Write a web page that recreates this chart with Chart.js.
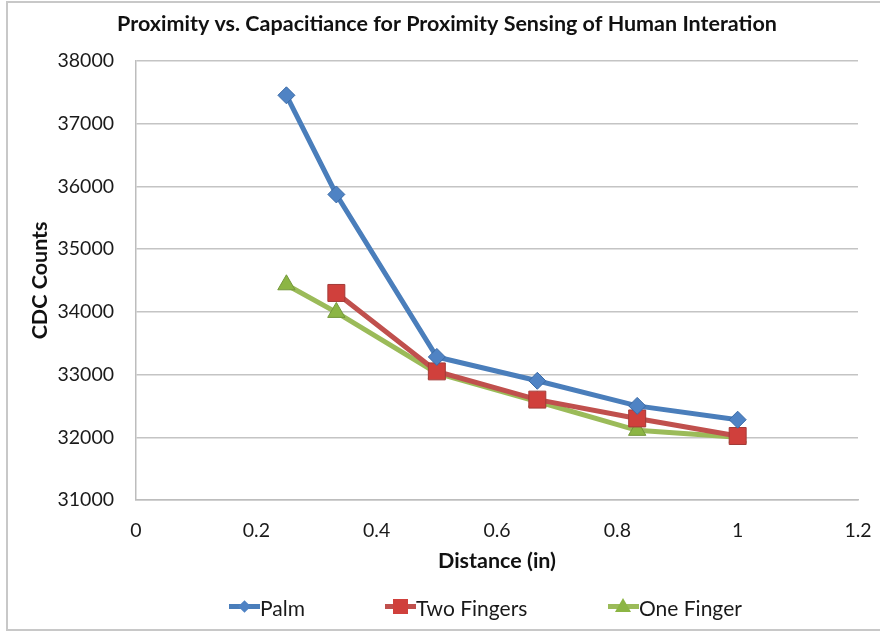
<!doctype html>
<html lang="en">
  <head>
    <meta charset="utf-8">
    <title>Proximity vs. Capacitiance</title>
    <style>
      * {
        margin: 0;
        padding: 0;
      }
      body {
        background: #fff;
        font-family: Lato, sans-serif;
      }
      .chartBox {
        position: relative;
        width: 880px;
        height: 633px;
        overflow: hidden;
      }
      .frame {
        position: absolute;
        left: 6px;
        top: 1px;
        width: 900px;
        height: 630px;
        border: 2px solid #c8c8c8;
        box-sizing: border-box;
      }
      #myChart {
        position: absolute;
        left: 0;
        top: 0;
      }
      .legend {
        position: absolute;
        top: 594px;
        left: 0;
        width: 880px;
        height: 26px;
        font-size: 21px;
        color: #1a1a1a;
      }
      .legend .item {
        position: absolute;
        top: 0;
        display: flex;
        align-items: center;
        height: 26px;
      }
      .legend .icon {
        position: relative;
        width: 31px;
        height: 26px;
      }
      .legend .icon .line {
        position: absolute;
        left: 0;
        top: 10px;
        width: 31px;
        height: 5px;
      }
      .legend .icon .mark {
        position: absolute;
      }
    </style>
  </head>
  <body>
    <div class="chartBox">
      <div class="frame"></div>
      <canvas id="myChart" width="880" height="633"></canvas>
      <div class="legend" id="legend"></div>
    </div>
    <script src="https://cdn.jsdelivr.net/npm/chart.js/dist/chart.umd.min.js"></script>
    <script>
// distances in inches
const distance = [0.25, 0.333, 0.5, 0.667, 0.833, 1];

// CDC counts per hand shape
const palm = [37450, 35870, 33280, 32900, 32500, 32280];
const twoFingers = [null, 34300, 33050, 32600, 32300, 32020];
const oneFinger = [34430, 33990, 33020, 32570, 32110, 32000];

const xTicks = [0, 0.2, 0.4, 0.6, 0.8, 1, 1.2];
const yTicks = [31000, 32000, 33000, 34000, 35000, 36000, 37000, 38000];

const blue = '#4a7ebb';
const red = '#c0504d';
const green = '#9bbb59';

function toPoints(values) {
  const pts = [];
  values.forEach((v, i) => {
    if (v !== null) pts.push({x: distance[i], y: v});
  });
  return pts;
}

const data = {
  datasets: [{
    label: 'Palm',
    data: toPoints(palm),
    borderColor: blue,
    backgroundColor: '#4f83c4',
    pointBorderColor: '#3a6aa6',
    pointStyle: 'rectRot',
    pointRadius: 8.5,
    pointBorderWidth: 1
  }, {
    label: 'Two Fingers',
    data: toPoints(twoFingers),
    borderColor: red,
    backgroundColor: '#d0403c',
    pointBorderColor: '#a33b38',
    pointStyle: 'rect',
    pointRadius: 12,
    pointBorderWidth: 1
  }, {
    label: 'One Finger',
    data: toPoints(oneFinger),
    borderColor: green,
    backgroundColor: '#8cb544',
    pointBorderColor: '#74983b',
    pointStyle: 'triangle',
    pointRadius: 10,
    pointBorderWidth: 1
  }]
};

const tickFont = {family: 'Lato', size: 19.5};
const titleFont = {family: 'Lato', size: 21.5, weight: 'bold'};

const config = {
  type: 'scatter',
  data,
  options: {
    responsive: false,
    animation: false,
    showLine: true,
    borderWidth: 5,
    layout: {
      padding: {left: 36, right: 22, top: 0, bottom: 58}
    },
    plugins: {
      legend: {display: false},
      tooltip: {enabled: false},
      title: {
        display: true,
        text: 'Proximity vs. Capacitiance for Proximity Sensing of Human Interation',
        color: '#111',
        font: {family: 'Lato', size: 21.5, weight: 'bold'},
        padding: {top: 11, bottom: 24}
      }
    },
    scales: {
      x: {
        type: 'linear',
        min: 0,
        max: 1.2,
        afterBuildTicks: axis => {
          axis.ticks = xTicks.map(v => ({value: v}));
        },
        afterFit: axis => {
          axis.height = 75;
        },
        // invisible tick marks push the labels down without widening the side padding
        grid: {
          drawOnChartArea: false,
          drawTicks: true,
          tickLength: 17,
          tickColor: 'rgba(0,0,0,0)'
        },
        border: {color: '#bdbdbd', width: 1.5},
        ticks: {
          font: tickFont,
          color: '#1a1a1a',
          padding: 2,
          maxRotation: 0,
          callback: v => String(Math.round(v * 10) / 10)
        },
        title: {
          display: true,
          text: 'Distance (in)',
          color: '#111',
          font: titleFont,
          padding: {top: 0, bottom: 1}
        }
      },
      y: {
        type: 'linear',
        min: 31000,
        max: 38000,
        afterBuildTicks: axis => {
          axis.ticks = yTicks.map(v => ({value: v}));
        },
        afterFit: axis => {
          axis.width = 100;
        },
        grid: {
          color: '#c4c4c4',
          lineWidth: 1.5,
          drawTicks: false
        },
        border: {color: '#bdbdbd', width: 1.5},
        ticks: {
          font: tickFont,
          color: '#1a1a1a',
          padding: 22,
          callback: v => String(v)
        },
        title: {
          display: true,
          text: 'CDC Counts',
          color: '#111',
          font: titleFont,
          padding: {top: -9, bottom: 0}
        }
      }
    }
  }
};

const myChart = new Chart(document.getElementById('myChart'), config);

// legend built from the datasets: line with marker, then label
const legendLefts = [229, 385, 608];
const legend = document.getElementById('legend');
myChart.data.datasets.forEach((ds, i) => {
  const item = document.createElement('div');
  item.className = 'item';
  item.style.left = legendLefts[i] + 'px';
  const icon = document.createElement('div');
  icon.className = 'icon';
  const line = document.createElement('div');
  line.className = 'line';
  line.style.background = ds.borderColor;
  icon.appendChild(line);
  const mark = document.createElement('div');
  mark.className = 'mark';
  if (ds.pointStyle === 'rectRot') {
    Object.assign(mark.style, {left: '11px', top: '8px', width: '9px', height: '9px',
      background: ds.backgroundColor, transform: 'rotate(45deg)'});
  } else if (ds.pointStyle === 'rect') {
    Object.assign(mark.style, {left: '8px', top: '5px', width: '15px', height: '15px',
      background: ds.backgroundColor});
  } else {
    Object.assign(mark.style, {left: '7px', top: '4px', width: '0', height: '0',
      borderLeft: '8.5px solid transparent', borderRight: '8.5px solid transparent',
      borderBottom: '14px solid ' + ds.backgroundColor});
  }
  icon.appendChild(mark);
  const label = document.createElement('span');
  label.textContent = ds.label;
  item.appendChild(icon);
  item.appendChild(label);
  legend.appendChild(item);
});
    </script>
  </body>
</html>
